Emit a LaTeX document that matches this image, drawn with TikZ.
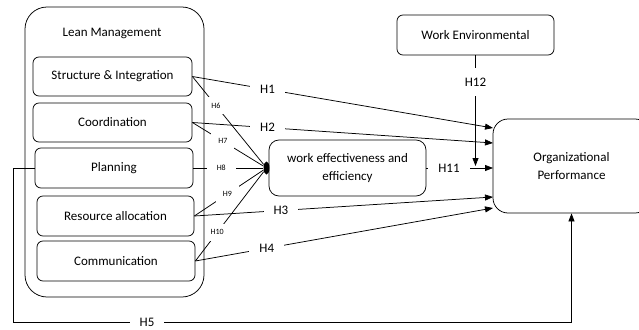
\documentclass[tikz,border=0pt]{standalone}
\usepackage{fontspec}
\setmainfont{Carlito}
\usepackage{tikz}
\usetikzlibrary{arrows.meta, shapes.geometric}

\begin{document}
\begin{tikzpicture}[x=1pt,y=-1pt,line width=0.75pt,
    box/.style={draw,rounded corners=6pt,align=center,inner sep=0pt,font=\fontsize{13}{18}\selectfont},
    hyp/.style={fill=white,inner xsep=10pt,inner ysep=2pt,font=\fontsize{13}{15}\selectfont},
    hsmall/.style={fill=white,inner xsep=7pt,inner ysep=6pt,font=\fontsize{8}{9}\selectfont},
    arr/.style={-{Triangle[length=8pt,width=6pt]}}]
    \useasboundingbox (0,0) rectangle (639,329);
    \clip (0,0) rectangle (639,329);
    % boxes
    \node (lean) at (112,33) {\fontsize{13}{15}\selectfont Lean Management};
    \node[box,minimum width=159pt,minimum height=39pt] (struct) at (112.5,76.5) {Structure \& Integration};
    \node[box,minimum width=159pt,minimum height=39pt] (coord) at (112.5,122.5) {Coordination};
    \node[box,minimum width=158pt,minimum height=40pt] (plan) at (114,168) {Planning};
    \node[box,minimum width=157pt,minimum height=40pt] (res) at (115.5,216) {Resource allocation};
    \node[box,minimum width=158pt,minimum height=40pt] (comm) at (116,261) {Communication};
    \node[box,minimum width=157pt,minimum height=56pt,rounded corners=10pt] (work) at (347.5,168) {work effectiveness and\\efficiency};
    \node[box,minimum width=157pt,minimum height=40pt] (env) at (475.5,35) {Work Environmental};
    \node[box,minimum width=157pt,minimum height=94pt,rounded corners=15pt] (org) at (571.5,166) {Organizational\\Performance};
    \node[ellipse,fill,minimum width=6pt,minimum height=13pt,inner sep=0pt] (hub) at (266.5,168) {}; %hub
    % arrow ends on org
    \coordinate (op1) at (493,128);
    \coordinate (op2) at (493,143);
    \coordinate (op11) at (493,168);
    \coordinate (op12) at (475.5,166);
    \coordinate (op3) at (493,197);
    \coordinate (op4) at (493,208);
    \coordinate (h5a) at (13,322);
    % direct paths
    \draw[arr] (struct.east) -- node[hyp,pos=.25]{H1} (op1);
    \draw[arr] (coord.east) -- node[hyp,pos=.25]{H2} (op2);
    \draw[arr] (res.east) -- node[hyp,pos=.29]{H3} (op3);
    \draw[arr] (comm.east) -- node[hyp,pos=.24]{H4} (op4);
    \draw[arr] (plan.west) -| (h5a) -| node[hyp,pos=.12]{H5} (org.south);
    \draw[arr] (work.east) -- node[hyp,pos=.34]{H11} (op11);
    \draw[arr] (env.south) -- node[hyp,pos=.24,inner ysep=10pt,inner xsep=3pt]{H12} (op12);
    % paths to work effectiveness
    \draw (struct.east) -- node[hsmall,pos=.33]{H6} (hub);
    \draw (coord.east) -- node[hsmall,pos=.43]{H7} (hub);
    \draw (plan.east) -- node[hsmall,pos=.40,inner xsep=10pt]{H8} (hub);
    \draw (res.east) -- node[hsmall,pos=.48]{H9} (hub);
    \draw (comm.east) -- node[hsmall,pos=.32]{H10} (hub);
    % outer frame
    \node[draw,rounded corners=22pt,minimum width=179pt,minimum height=290pt] (lm) at (114.5,152) {};
\end{tikzpicture}
\end{document}
